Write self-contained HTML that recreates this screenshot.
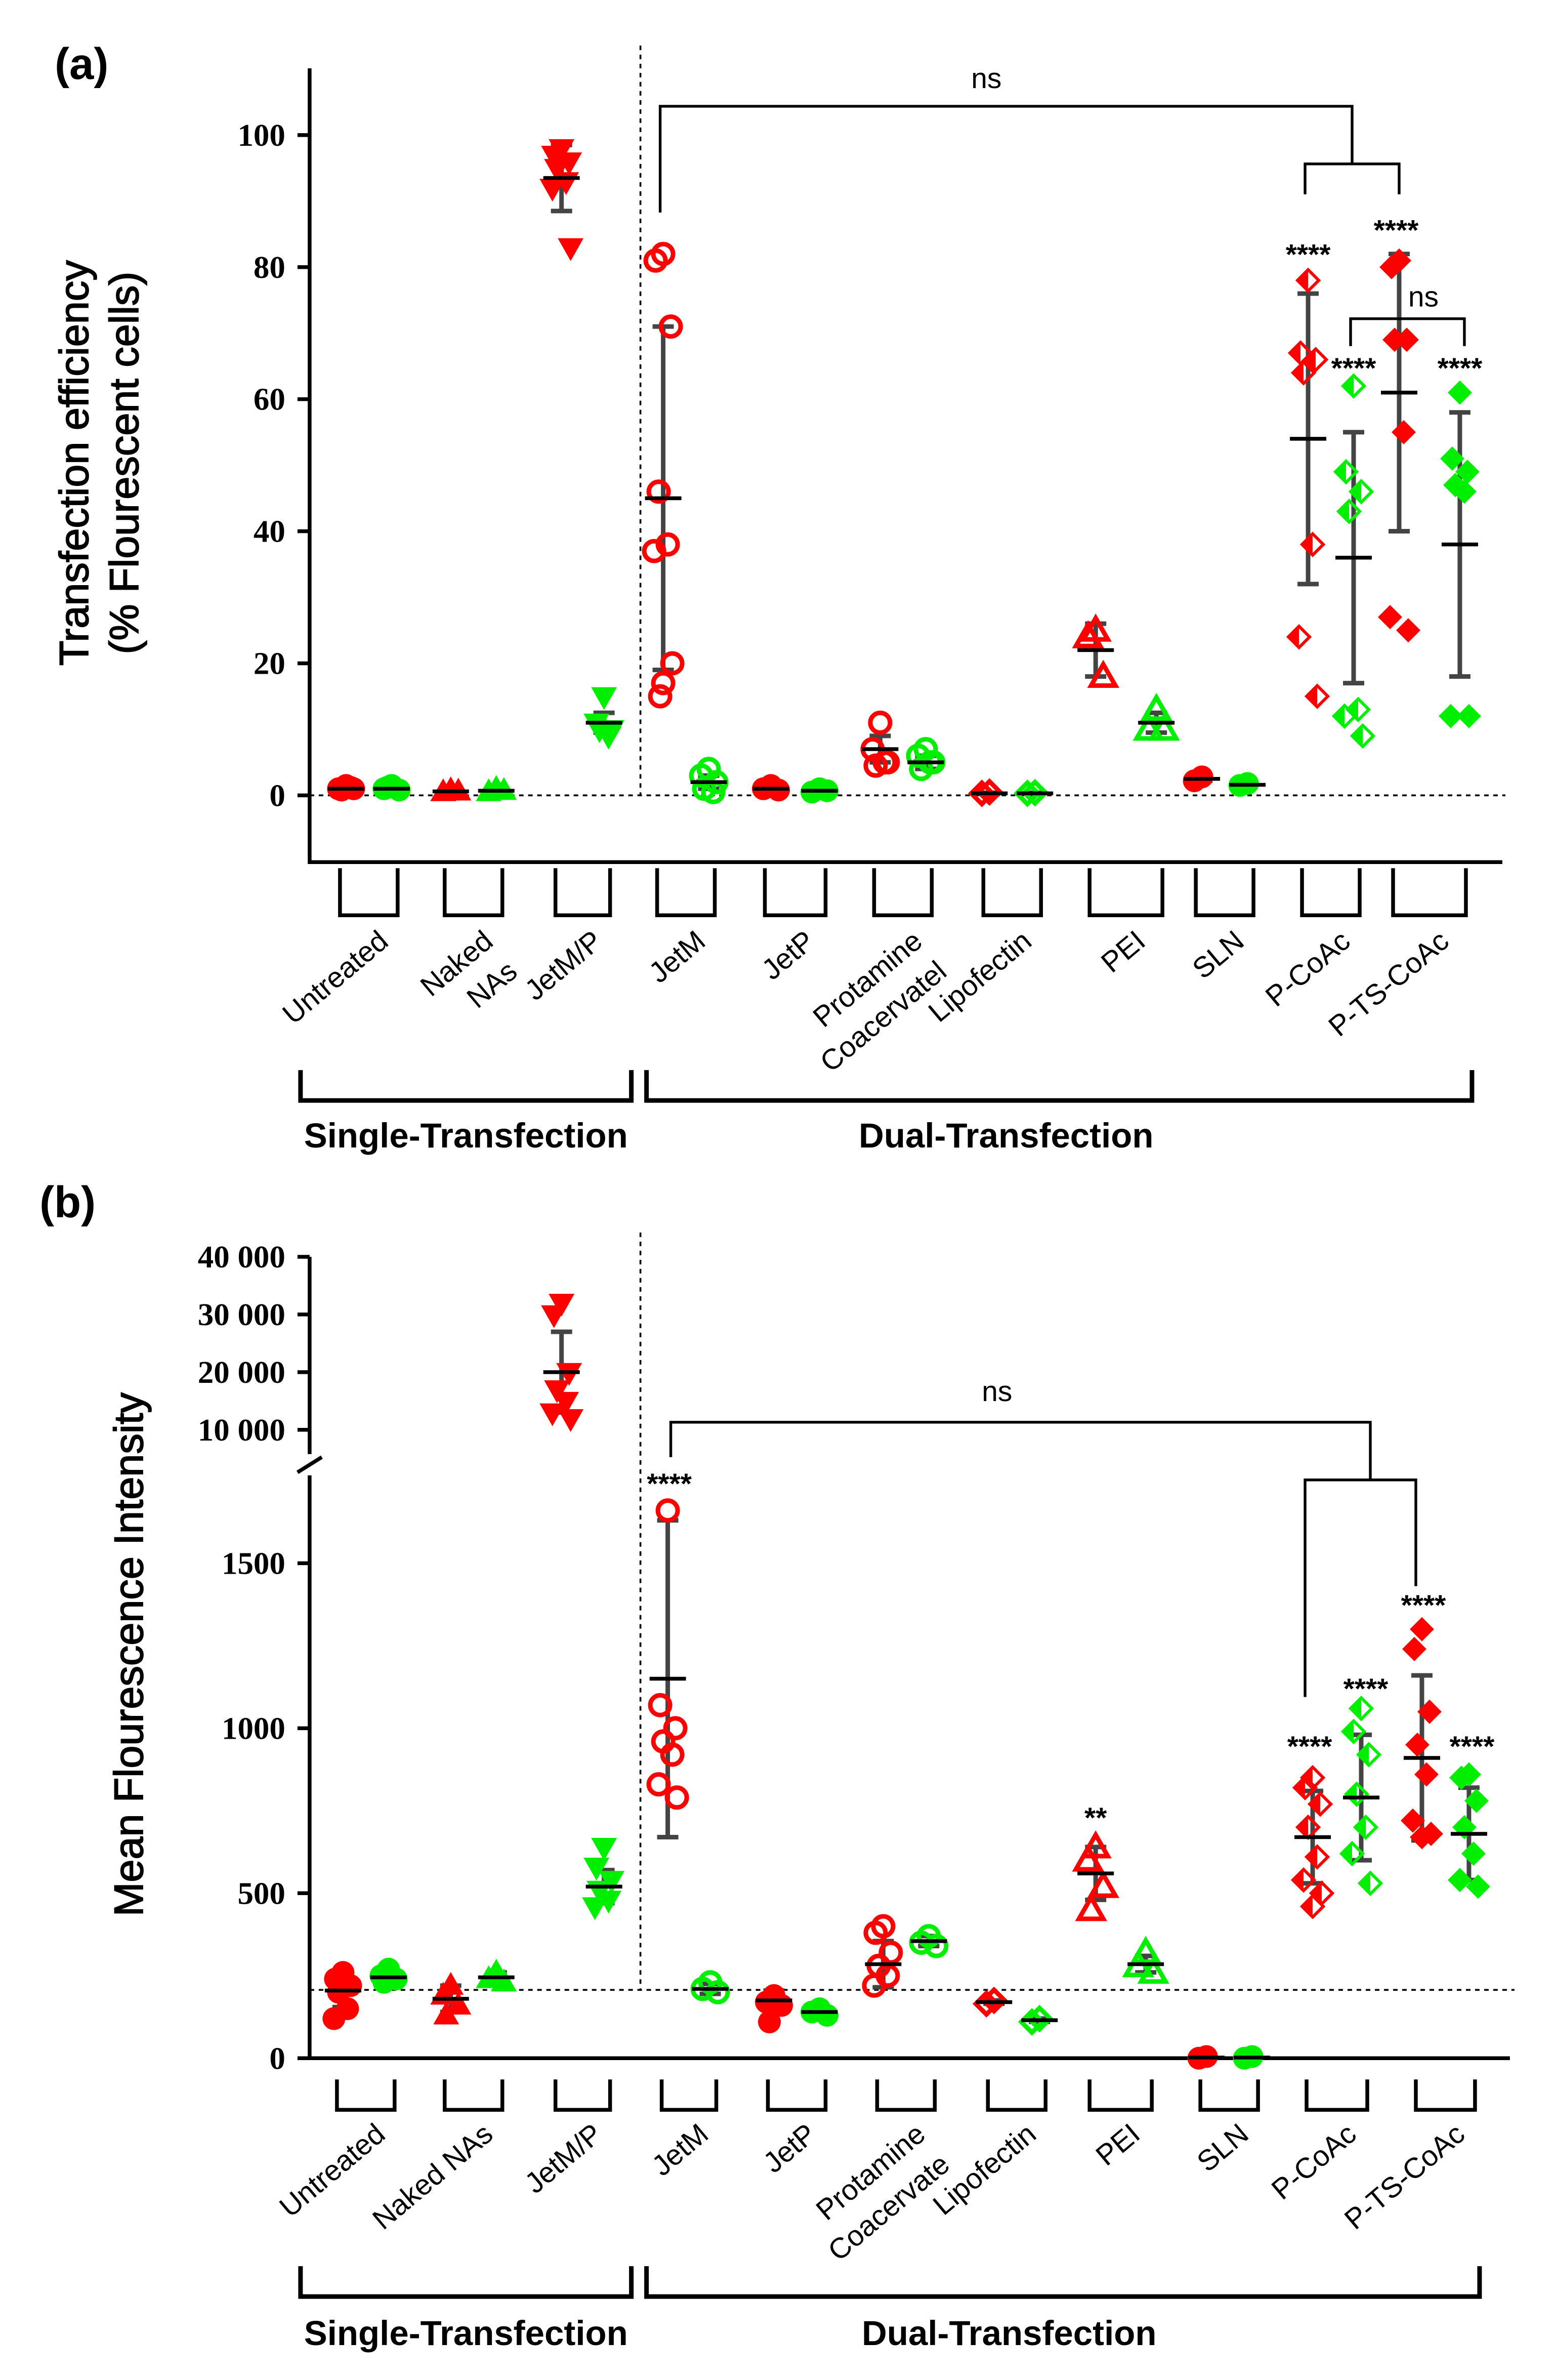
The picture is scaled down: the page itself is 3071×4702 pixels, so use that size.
<!DOCTYPE html>
<html><head><meta charset="utf-8"><style>
html,body{margin:0;padding:0;background:#fff}
svg{display:block}
.tk{font-family:"Liberation Serif",serif;font-weight:bold;font-size:21px}
.lb{font-family:"Liberation Sans",sans-serif;font-size:19px}
.ttl{font-family:"Liberation Sans",sans-serif;font-size:27px;stroke:#000;stroke-width:0.6}
.grp{font-family:"Liberation Sans",sans-serif;font-weight:bold;font-size:23px}
.st{font-family:"Liberation Sans",sans-serif;font-size:19px;font-weight:bold}
</style></head><body>
<svg id="c" width="3071" height="4702" viewBox="0 0 1024 1568" xmlns="http://www.w3.org/2000/svg">
<text x="36" y="52" font-family="Liberation Sans" font-weight="bold" font-size="29">(a)</text>
<text x="26" y="802" font-family="Liberation Sans" font-weight="bold" font-size="29">(b)</text>
<g class="ttl">
<text transform="translate(58,305) rotate(-90)" text-anchor="middle">Transfection efficiency</text>
<text transform="translate(91,305) rotate(-90)" text-anchor="middle">(% Flourescent cells)</text>
</g>
<text class="ttl" transform="translate(94,1090) rotate(-90)" text-anchor="middle">Mean Flourescence Intensity</text>
<g id="plot"></g>
</svg>
<script>
// ---- Panel (a) data ----
const groupsA = ["Untreated","Naked NAs","JetM/P","JetM","JetP","Protamine Coacervate","Lipofectin","PEI","SLN","P-CoAc","P-TS-CoAc"];
const aRedPts = [[1.5,1,1,0.8,1.2],[0.8,0.5,0.6],[98,97,96,95,93,92,83],[82,81,71,46,38,37,20,17,15],[1.5,1,0.8],[11,7,5,4.5,5],[0.5,0.3],[25,24,18],[2.8,2.2],[78,67,66,64,38,24,15],[81,80,69,69,55,27,25]];
const aRedMean = [1,0.6,93.5,45,1,7,0.3,22,2.5,54,61];
const aRedSd = [0.3,0.2,5,26,0.3,2,0.1,4,0.3,22,21];
const aGreenPts = [[1.5,1,0.8,1.2],[1,0.5,0.7],[15,11,10,10,9],[4,3,2,1,0.5],[1,0.5,0.7],[7,6,5,4,5],[0.4,0.3],[13,10,10],[1.8,1.5],[62,49,46,43,13,12,9],[61,51,49,47,46,12,12]];
const aGreenMean = [1,0.7,11,2,0.7,5,0.3,11,1.6,36,38];
const aGreenSd = [0.3,0.2,1.5,1,0.2,1,0.1,1.5,0.2,19,20];
const aTicks = [0,20,40,60,80,100];
// ---- Panel (b) data ----
const bRedPts = [[260,240,220,200,150,120],[220,190,160,130],[32000,30000,20000,17000,15000,13000,12000],[1660,1070,1000,960,920,830,790],[190,170,160,110],[400,380,320,280,250,220],[175,165],[640,600,520,450],[5,0],[850,820,770,700,610,540,500,460],[1300,1240,1050,950,860,720,680,670]];
const bRedMean = [205,180,20000,1150,175,285,170,560,2,670,910];
const bRedSd = [50,40,7000,480,30,70,5,80,2,140,250];
const bGreenPts = [[270,250,240,230],[260,240,230],[640,580,540,510,480,460],[230,210,200],[150,140,130],[370,350,340],[120,110],[320,280,260],[5,0],[1060,990,920,800,700,620,530],[860,850,780,700,620,540,520]];
const bGreenMean = [245,245,520,210,140,355,115,285,2,790,680];
const bGreenSd = [20,15,50,15,10,15,5,25,2,190,140];
const bTicksLow = [0,500,1000,1500];
const bTicksHigh = [10000,20000,30000,40000];
const markers = ["fcirc","tup","tdown","ocirc","fcirc","ocirc","odiam","otri","fcirc","hdiam","star"];

const NS="http://www.w3.org/2000/svg";
const plot=document.getElementById('plot');
function mk(tag,at,parent){const e=document.createElementNS(NS,tag);for(const k in at)e.setAttribute(k,at[k]);(parent||plot).appendChild(e);return e;}

const yA=v=>524-v*4.35;
const yB=v=>v>=10000?942-(v-10000)/10000*38:1356-v*0.2174;
const xRedA=[228,297,370,437,508,580,652,722,792,862,922];
const xGrnA=[258,327,398,467,540,610,682,762,822,892,962];
const xRedB=[226,297,370,440,510,582,655,722,795,865,937];
const xGrnB=[256,327,398,468,540,612,685,755,825,897,968];

function marker(g,type,x,y,col){
  const r=7.5;
  if(type==="fcirc")mk('circle',{cx:x,cy:y,r:r,fill:col},g);
  else if(type==="ocirc")mk('circle',{cx:x,cy:y,r:r-1,fill:'none',stroke:col,'stroke-width':3},g);
  else if(type==="tup")mk('polygon',{points:`${x},${y-9} ${x-8.5},${y+6} ${x+8.5},${y+6}`,fill:col},g);
  else if(type==="tdown")mk('polygon',{points:`${x},${y+9} ${x-8.5},${y-6} ${x+8.5},${y-6}`,fill:col},g);
  else if(type==="otri")mk('polygon',{points:`${x},${y-8} ${x-8},${y+6} ${x+8},${y+6}`,fill:'none',stroke:col,'stroke-width':3},g);
  else if(type==="odiam")mk('polygon',{points:`${x},${y-7} ${x+7},${y} ${x},${y+7} ${x-7},${y}`,fill:'none',stroke:col,'stroke-width':3},g);
  else if(type==="hdiam"){mk('polygon',{points:`${x},${y-7} ${x},${y+7} ${x-7},${y}`,fill:col},g);mk('polygon',{points:`${x},${y-7} ${x+7},${y} ${x},${y+7} ${x-7},${y}`,fill:'none',stroke:col,'stroke-width':2},g);}
  else if(type==="star")mk('polygon',{points:`${x},${y-8} ${x+4},${y-4} ${x+8},${y} ${x+4},${y+4} ${x},${y+8} ${x-4},${y+4} ${x-8},${y} ${x-4},${y-4}`,fill:col},g);
}
const jit=[0,-5,5,-3,3,-6,6,0,-2];
function series(pts,mean,sd,xs,yf,col,name){
  pts.forEach((arr,i)=>{
    const g=mk('g',{});
    
    
    const x=xs[i];
    const top=yf(mean[i]+sd[i]),bot=yf(Math.max(mean[i]-sd[i],0));
    mk('line',{x1:x,x2:x,y1:top,y2:bot,stroke:'#444','stroke-width':3},g);
    mk('line',{x1:x-7,x2:x+7,y1:top,y2:top,stroke:'#444','stroke-width':3},g);
    mk('line',{x1:x-7,x2:x+7,y1:bot,y2:bot,stroke:'#444','stroke-width':3},g);
    arr.forEach((v,j)=>marker(g,markers[i],x+jit[j%jit.length],yf(v),col));
    mk('line',{x1:x-12,x2:x+12,y1:yf(mean[i]),y2:yf(mean[i]),stroke:'#000','stroke-width':2.5},g);
  });
}
function txt(x,y,s,cls,anchor,name,rot){
  const t=mk('text',{x:x,y:y,class:cls,'text-anchor':anchor||'middle'});
  if(rot)t.setAttribute('transform',`rotate(${rot},${x},${y})`);
  t.textContent=s;
  
  
  return t;
}
function path(d,name,w,dash){
  const p=mk('path',{d:d,fill:'none',stroke:'#000','stroke-width':w||1.5});
  if(dash)p.setAttribute('stroke-dasharray',dash);
  
  
  return p;
}

// ===== Panel a =====
path('M204,45 V568 H990','axes-a',2.5);
aTicks.forEach(v=>{path(`M196,${yA(v)} H204`,'y-tick-a',2.5);txt(188,yA(v)+7,String(v),'tk','end','y-tick-label-a');});
path('M204,524 H992','baseline-a',1.2,'3,3');
path('M422,30 V524','divider-a',1.2,'3,3');
series(aRedPts,aRedMean,aRedSd,xRedA,yA,'#ff0000','red-points-a');
series(aGreenPts,aGreenMean,aGreenSd,xGrnA,yA,'#00ee00','green-points-a');
xRedA.forEach((x,i)=>{const x2=xGrnA[i];path(`M${x-4},572 V603 H${x2+4} V572`,'group-bracket-a',2.5);});
const labA=[["Untreated"],["Naked","NAs"],["JetM/P"],["JetM"],["JetP"],["Protamine","Coacervatel"],["Lipofectin"],["PEI"],["SLN"],["P-CoAc"],["P-TS-CoAc"]];
labA.forEach((l,i)=>{const cx=(xRedA[i]+xGrnA[i])/2+14;l.forEach((s,k)=>txt(cx+k*16,622+k*20,s,'lb','end','x-label-a',-40));});
path('M198,705 V725 H416 V705','single-bracket-a',3);
path('M426,705 V725 H970 V705','dual-bracket-a',3);
txt(307,756,'Single-Transfection','grp','middle','single-transfection-a');
txt(663,756,'Dual-Transfection','grp','middle','dual-transfection-a');
path('M435,140 V70 H891 V108 M860,128 V108 H922 V128','ns-bracket-a',1.8);
txt(650,58,'ns','lb','middle','ns-label-a');
path('M890,228 V210 H965 V228','ns-bracket-a2',1.8);
txt(938,202,'ns','lb','middle','ns-label-a2');
[[862,174],[892,249],[920,158],[962,249]].forEach(p=>txt(p[0],p[1],'****','st','middle','significance-a'));

// ===== Panel b =====
path('M204,828 V958 M204,972 V1356 H995','axes-b',2.5);
path('M196,970 L212,960','axis-break-b',2.5);
bTicksHigh.forEach(v=>{path(`M196,${yB(v)} H204`,'y-tick-b',2.5);txt(188,yB(v)+7,(v/1000)+' 000','tk','end','y-tick-label-b');});
bTicksLow.forEach(v=>{path(`M196,${yB(v)} H204`,'y-tick-b',2.5);txt(188,yB(v)+7,String(v),'tk','end','y-tick-label-b');});
path('M204,1311 H998','baseline-b',1.2,'3,3');
path('M422,812 V1311','divider-b',1.2,'3,3');
series(bRedPts,bRedMean,bRedSd,xRedB,yB,'#ff0000','red-points-b');
series(bGreenPts,bGreenMean,bGreenSd,xGrnB,yB,'#00ee00','green-points-b');
xRedB.forEach((x,i)=>{const x2=xGrnB[i];path(`M${x-4},1370 V1390 H${x2+4} V1370`,'group-bracket-b',2.5);});
const labB=[["Untreated"],["Naked NAs"],["JetM/P"],["JetM"],["JetP"],["Protamine","Coacervate"],["Lipofectin"],["PEI"],["SLN"],["P-CoAc"],["P-TS-CoAc"]];
labB.forEach((l,i)=>{const cx=(xRedB[i]+xGrnB[i])/2+14;l.forEach((s,k)=>txt(cx+k*16,1408+k*20,s,'lb','end','x-label-b',-40));});
path('M198,1493 V1513 H416 V1493','single-bracket-b',3);
path('M426,1493 V1513 H975 V1493','dual-bracket-b',3);
txt(307,1545,'Single-Transfection','grp','middle','single-transfection-b');
txt(665,1545,'Dual-Transfection','grp','middle','dual-transfection-b');
path('M442,960 V937 H903 V975 M860,1118 V975 H933 V1045','ns-bracket-b',1.8);
txt(657,923,'ns','lb','middle','ns-label-b');
[[441,984],[863,1157],[900,1119],[938,1064],[970,1157]].forEach(p=>txt(p[0],p[1],'****','st','middle','significance-b'));
txt(722,1204,'**','st','middle','significance-b');
</script>
</body></html>
